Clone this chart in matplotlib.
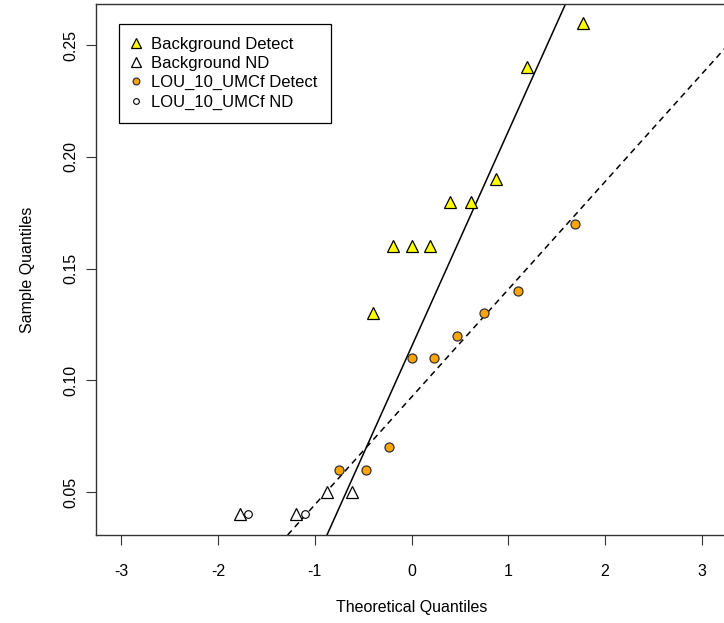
import matplotlib
matplotlib.use("Agg")
import matplotlib.pyplot as plt

plt.rcParams['font.family'] = ['Liberation Sans', 'DejaVu Sans']

# ---- data ----
bg_det_x = [-0.396, -0.194, 0.0, 0.194, 0.396, 0.615, 0.869, 1.198, 1.769]
bg_det_y = [0.13, 0.16, 0.16, 0.16, 0.18, 0.18, 0.19, 0.24, 0.26]
bg_nd_x = [-1.769, -1.198, -0.869, -0.615]
bg_nd_y = [0.04, 0.04, 0.05, 0.05]

lou_det_x = [-0.748, -0.473, -0.230, 0.0, 0.230, 0.473, 0.748, 1.097, 1.691]
lou_det_y = [0.06, 0.06, 0.07, 0.11, 0.11, 0.12, 0.13, 0.14, 0.17]
lou_nd_x = [-1.691, -1.097]
lou_nd_y = [0.04, 0.04]

# qq lines (intercept, slope)
bg_line = (0.115, 0.0964)
lou_line = (0.0925, 0.0482)

x_ticks = [-3, -2, -1, 0, 1, 2, 3]
y_ticks = [0.05, 0.10, 0.15, 0.20, 0.25]
y_ticklabels = ["0.05", "0.10", "0.15", "0.20", "0.25"]

# ---- figure ----
fig = plt.figure(figsize=(7.24, 6.23), dpi=100)
ax = fig.add_axes([96 / 724, 88 / 623, 631 / 724, 531 / 623])

ax.axline((0, bg_line[0]), slope=bg_line[1], color='black', lw=1.1)
ax.axline((0, lou_line[0]), slope=lou_line[1], color='black', lw=1.1,
          linestyle=(0, (4, 3)))

ax.plot(bg_det_x, bg_det_y, linestyle='none', marker='^', ms=9,
        mfc='#FFFF00', mec='black', mew=0.9, label='Background Detect')
ax.plot(bg_nd_x, bg_nd_y, linestyle='none', marker='^', ms=9,
        mfc='white', mec='black', mew=0.9, label='Background ND')
ax.plot(lou_det_x, lou_det_y, linestyle='none', marker='o', ms=6.5,
        mfc='#FFA500', mec='#333333', mew=0.9, label='LOU_10_UMCf Detect')
ax.plot(lou_nd_x, lou_nd_y, linestyle='none', marker='o', ms=5.5,
        mfc='white', mec='black', mew=0.8, label='LOU_10_UMCf ND')

ax.set_xlim(-3.26, 3.26)
ax.set_ylim(0.0308, 0.2684)
ax.set_xticks(x_ticks)
ax.set_xticklabels([str(t) for t in x_ticks])
ax.set_yticks(y_ticks)
ax.set_yticklabels(y_ticklabels, rotation=90, va='center')

ax.tick_params(axis='both', direction='out', length=7, width=0.8,
               labelsize=11.5, color='#333333')
ax.tick_params(axis='x', pad=14)
ax.tick_params(axis='y', pad=6)
for s in ax.spines.values():
    s.set_linewidth(1.0)
    s.set_color('#333333')

ax.set_xlabel("Theoretical Quantiles", fontsize=11.5, labelpad=15)
ax.set_ylabel("Sample Quantiles", fontsize=11.5, labelpad=20)

leg = ax.legend(loc='upper left', bbox_to_anchor=(0.037, 0.963),
                fontsize=12, frameon=True, fancybox=False,
                edgecolor='black', framealpha=1, borderpad=0.8,
                labelspacing=0.25, handlelength=0.4, handletextpad=0.72,
                markerscale=0.75, borderaxespad=0)
leg.get_frame().set_linewidth(0.9)

fig.savefig("out.png", dpi=100)
